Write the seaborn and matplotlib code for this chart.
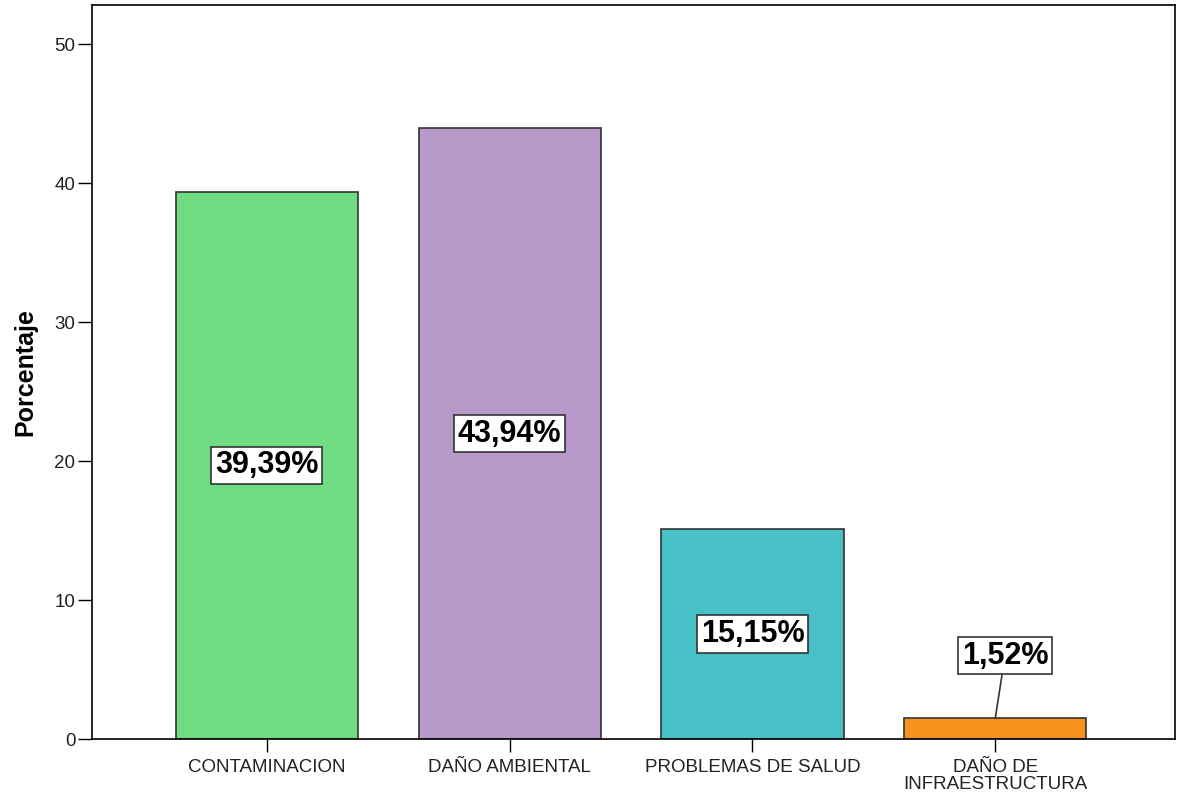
import pandas as pd
import numpy as np

import matplotlib
matplotlib.use('Agg')
import matplotlib.pyplot as plt
import seaborn as sns

# data
categorias = ["CONTAMINACION", "DAÑO AMBIENTAL", "PROBLEMAS DE SALUD", "DAÑO DE\nINFRAESTRUCTURA"]
porcentajes = [39.39, 43.94, 15.15, 1.52]
etiquetas = ["39,39%", "43,94%", "15,15%", "1,52%"]
colores = ["#70DC82", "#B79AC9", "#48C1C6", "#F7931E"]

sns.set_style("white")
plt.rcParams['font.family'] = ['Liberation Sans', 'DejaVu Sans']
plt.rcParams['text.color'] = 'black'

df = pd.DataFrame({"cat": categorias, "pct": porcentajes})

fig = plt.figure(figsize=(11.79, 7.94), dpi=100)
ax = fig.add_axes([0.078, 0.069, 0.9186, 0.9245])

sns.barplot(data=df, x="cat", y="pct", hue="cat", palette=colores, width=0.75,
            edgecolor="#333333", linewidth=1.2, saturation=1, legend=False, ax=ax)

ax.set_xlim(-0.72, 3.74)
ax.set_ylim(0, 52.8)
ax.set_yticks([0, 10, 20, 30, 40, 50])
ax.set_xlabel("")
ax.set_ylabel("Porcentaje", fontsize=18, fontweight="bold", color="black", labelpad=12)

for s in ax.spines.values():
    s.set_color("black")
    s.set_linewidth(1.2)

ax.tick_params(axis="y", left=True, direction="out", length=10, width=1, labelsize=13.5,
               color="black", labelcolor="#222222", pad=2)
ax.tick_params(axis="x", bottom=True, direction="out", length=9, width=1, labelsize=13.5,
               color="black", labelcolor="#222222", pad=5)
for t in ax.get_xticklabels():
    t.set_linespacing(1.0)

caja = dict(boxstyle="square,pad=0.12", facecolor="white", edgecolor="#333333", linewidth=1.2)
for i, (v, txt) in enumerate(zip(porcentajes, etiquetas)):
    if v > 5:
        ax.text(i, v / 2, txt, ha="center", va="center", fontsize=22, fontweight="bold",
                color="black", bbox=caja)
    else:
        ax.annotate(txt, xy=(i, v), xytext=(i + 0.04, 6.0), ha="center", va="center",
                    fontsize=22, fontweight="bold", color="black", bbox=caja,
                    arrowprops=dict(arrowstyle="-", color="#333333", lw=1.2, shrinkA=0, shrinkB=0))

fig.savefig("out.png", dpi=100)
plt.close(fig)
